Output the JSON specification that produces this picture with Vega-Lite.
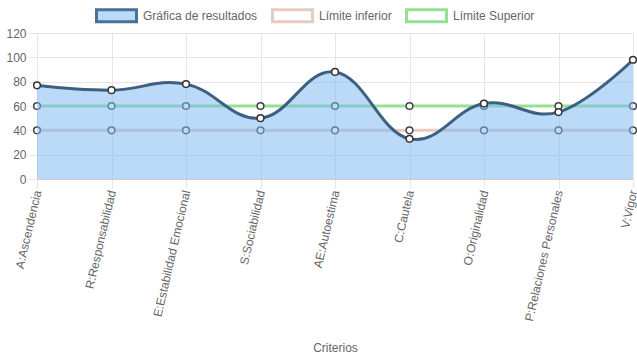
{
  "$schema": "https://vega.github.io/schema/vega-lite/v6.json",
  "autosize": {"type": "none"},
  "width": 596,
  "height": 146,
  "padding": {"left": 37, "top": 33, "right": 4, "bottom": 180},
  "background": "white",
  "config": {
    "view": {"stroke": null},
    "font": "Liberation Sans",
    "axis": {
      "labelFont": "Liberation Sans",
      "labelFontSize": 12,
      "labelColor": "#666666",
      "titleFont": "Liberation Sans",
      "titleFontSize": 12,
      "titleFontWeight": "normal",
      "titleColor": "#666666",
      "gridColor": "#e6e6e6",
      "gridWidth": 1,
      "tickColor": "#e6e6e6",
      "tickSize": 9
    },
    "legend": {
      "labelFont": "Liberation Sans",
      "labelFontSize": 12,
      "labelColor": "#666666"
    }
  },
  "data": {
    "values": [
      {"criterio": "A:Ascendencia", "serie": "Gráfica de resultados", "valor": 77},
      {"criterio": "R:Responsabilidad", "serie": "Gráfica de resultados", "valor": 73},
      {"criterio": "E:Estabilidad Emocional", "serie": "Gráfica de resultados", "valor": 78},
      {"criterio": "S:Sociabilidad", "serie": "Gráfica de resultados", "valor": 50},
      {"criterio": "AE:Autoestima", "serie": "Gráfica de resultados", "valor": 88},
      {"criterio": "C:Cautela", "serie": "Gráfica de resultados", "valor": 33},
      {"criterio": "O:Originalidad", "serie": "Gráfica de resultados", "valor": 62},
      {"criterio": "P:Relaciones Personales", "serie": "Gráfica de resultados", "valor": 55},
      {"criterio": "V:Vigor", "serie": "Gráfica de resultados", "valor": 98},
      {"criterio": "A:Ascendencia", "serie": "Límite inferior", "valor": 40},
      {"criterio": "R:Responsabilidad", "serie": "Límite inferior", "valor": 40},
      {"criterio": "E:Estabilidad Emocional", "serie": "Límite inferior", "valor": 40},
      {"criterio": "S:Sociabilidad", "serie": "Límite inferior", "valor": 40},
      {"criterio": "AE:Autoestima", "serie": "Límite inferior", "valor": 40},
      {"criterio": "C:Cautela", "serie": "Límite inferior", "valor": 40},
      {"criterio": "O:Originalidad", "serie": "Límite inferior", "valor": 40},
      {"criterio": "P:Relaciones Personales", "serie": "Límite inferior", "valor": 40},
      {"criterio": "V:Vigor", "serie": "Límite inferior", "valor": 40},
      {"criterio": "A:Ascendencia", "serie": "Límite Superior", "valor": 60},
      {"criterio": "R:Responsabilidad", "serie": "Límite Superior", "valor": 60},
      {"criterio": "E:Estabilidad Emocional", "serie": "Límite Superior", "valor": 60},
      {"criterio": "S:Sociabilidad", "serie": "Límite Superior", "valor": 60},
      {"criterio": "AE:Autoestima", "serie": "Límite Superior", "valor": 60},
      {"criterio": "C:Cautela", "serie": "Límite Superior", "valor": 60},
      {"criterio": "O:Originalidad", "serie": "Límite Superior", "valor": 60},
      {"criterio": "P:Relaciones Personales", "serie": "Límite Superior", "valor": 60},
      {"criterio": "V:Vigor", "serie": "Límite Superior", "valor": 60}
    ]
  },
  "encoding": {
    "x": {
      "field": "criterio",
      "type": "nominal",
      "sort": null,
      "scale": {"type": "point", "padding": 0},
      "axis": {
        "title": "Criterios",
        "labelAngle": -77,
        "labelOverlap": false,
        "labelPadding": 2,
        "grid": true,
        "domainColor": "#cccccc",
        "titleY": 168,
        "titleBaseline": "middle"
      }
    },
    "y": {
      "field": "valor",
      "type": "quantitative",
      "scale": {"domain": [0, 120], "nice": false},
      "axis": {
        "title": null,
        "values": [0, 20, 40, 60, 80, 100, 120],
        "labelPadding": 2,
        "domainColor": "#e6e6e6",
        "grid": true
      }
    }
  },
  "layer": [
    {
      "transform": [{"filter": "datum.serie === 'Límite Superior'"}],
      "mark": {"type": "line", "stroke": "#93e293", "strokeWidth": 3, "interpolate": "linear"}
    },
    {
      "transform": [{"filter": "datum.serie === 'Límite Superior'"}],
      "mark": {"type": "point", "filled": true, "fill": "white", "stroke": "#444444", "strokeWidth": 1.5, "size": 45, "opacity": 1}
    },
    {
      "transform": [{"filter": "datum.serie === 'Límite inferior'"}],
      "mark": {"type": "line", "stroke": "#e6cbc0", "strokeWidth": 3, "interpolate": "linear"}
    },
    {
      "transform": [{"filter": "datum.serie === 'Límite inferior'"}],
      "mark": {"type": "point", "filled": true, "fill": "white", "stroke": "#444444", "strokeWidth": 1.5, "size": 45, "opacity": 1}
    },
    {
      "transform": [{"filter": "datum.serie === 'Gráfica de resultados'"}],
      "mark": {"type": "area", "fill": "#7ab8f2", "fillOpacity": 0.52, "interpolate": "cardinal", "tension": -0.2}
    },
    {
      "transform": [{"filter": "datum.serie === 'Gráfica de resultados'"}],
      "mark": {"type": "line", "stroke": "#3d5f80", "strokeWidth": 3, "interpolate": "cardinal", "tension": -0.2}
    },
    {
      "transform": [{"filter": "datum.serie === 'Gráfica de resultados'"}],
      "mark": {"type": "point", "filled": true, "fill": "white", "stroke": "#333333", "strokeWidth": 1.5, "size": 45, "opacity": 1}
    },
    {
      "mark": {"type": "point", "filled": true, "opacity": 0, "size": 1},
      "encoding": {
        "fill": {
          "field": "serie",
          "type": "nominal",
          "scale": {"domain": ["Gráfica de resultados", "Límite inferior", "Límite Superior"], "range": ["#b8dbf8", "#ffffff", "#ffffff"]},
          "legend": {
            "title": null,
            "orient": "none",
            "legendX": 58,
            "legendY": -39,
            "direction": "horizontal",
            "symbolType": "M-1,-0.3H1V0.3H-1Z",
            "symbolSize": 1600,
            "symbolStrokeWidth": 3,
            "symbolOpacity": 1,
            "labelOffset": 5,
            "columnPadding": 8,
            "padding": 0
          }
        },
        "stroke": {
          "field": "serie",
          "type": "nominal",
          "scale": {"domain": ["Gráfica de resultados", "Límite inferior", "Límite Superior"], "range": ["#4a7096", "#e6cbc0", "#93e293"]},
          "legend": {
            "title": null,
            "orient": "none",
            "legendX": 58,
            "legendY": -39,
            "direction": "horizontal",
            "symbolType": "M-1,-0.3H1V0.3H-1Z",
            "symbolSize": 1600,
            "symbolStrokeWidth": 3,
            "symbolOpacity": 1,
            "labelOffset": 5,
            "columnPadding": 8,
            "padding": 0
          }
        }
      }
    }
  ]
}
